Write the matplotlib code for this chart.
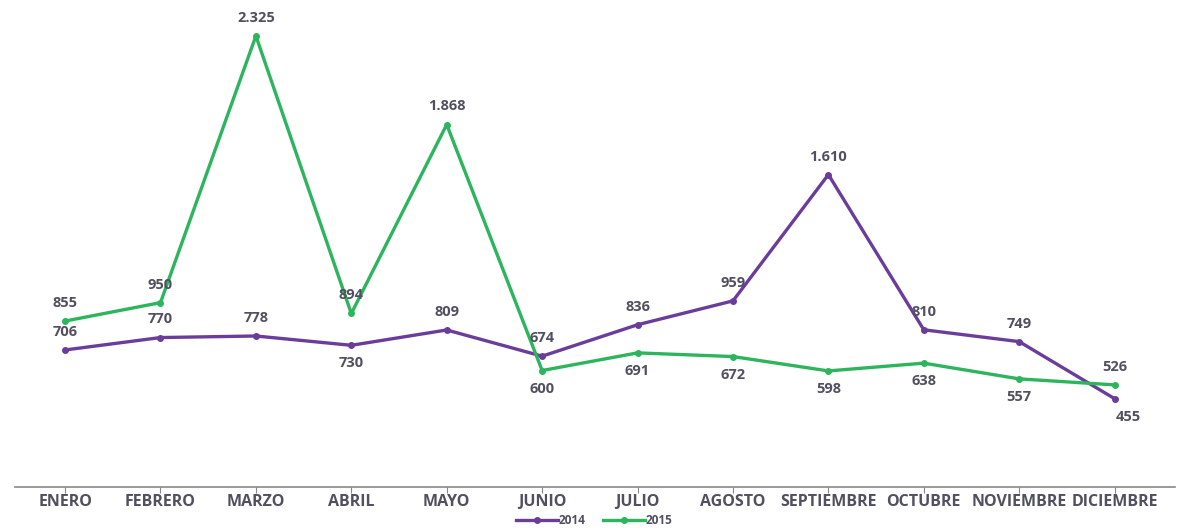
import matplotlib.pyplot as plt

meses = ['ENERO', 'FEBRERO', 'MARZO', 'ABRIL', 'MAYO', 'JUNIO', 'JULIO', 'AGOSTO',
         'SEPTIEMBRE', 'OCTUBRE', 'NOVIEMBRE', 'DICIEMBRE']
v2014 = [706, 770, 778, 730, 809, 674, 836, 959, 1610, 810, 749, 455]
v2015 = [855, 950, 2325, 894, 1868, 600, 691, 672, 598, 638, 557, 526]
# posicion de las etiquetas: 1 arriba, -1 abajo
pos2014 = [1, 1, 1, -1, 1, 1, 1, 1, 1, 1, 1, -1]
pos2015 = [1, 1, 1, 1, 1, -1, -1, -1, -1, -1, -1, 1]

morado = '#6a3d9a'
verde = '#2db55d'
gris = '#505060'

plt.rcParams['font.family'] = ['Open Sans', 'DejaVu Sans']
fig = plt.figure(figsize=(11.89, 5.31), dpi=100)
ax = fig.add_axes([0.013, 0.083, 0.975, 0.917])

x = list(range(len(meses)))
ax.plot(x, v2014, color=morado, lw=2.4, marker='o', ms=4, label='2014')
ax.plot(x, v2015, color=verde, lw=2.4, marker='o', ms=4, label='2015')

def fmt(v):
    return f'{v:,}'.replace(',', '.')

for i in x:
    for v, p in ((v2014[i], pos2014[i]), (v2015[i], pos2015[i])):
        dx = 0
        if v == 455:
            dx = 10
        ax.annotate(fmt(v), (i, v), xytext=(dx, 13 * p), textcoords='offset points',
                    ha='center', va='center', fontsize=10.5, fontweight='bold', color=gris)

ax.set_xlim(-0.52, 11.63)
ax.set_ylim(0, 2510)
ax.set_xticks(x)
ax.set_xticklabels(meses, fontsize=11.5, fontweight='bold', color=gris)
ax.tick_params(axis='x', length=4, color='#888888', pad=1)
ax.set_yticks([])
for s in ['top', 'right', 'left']:
    ax.spines[s].set_visible(False)
ax.spines['bottom'].set_color('#888888')
ax.spines['bottom'].set_linewidth(1.2)

leg = fig.legend(loc='center', bbox_to_anchor=(0.5, 10 / 531), ncol=2, frameon=False,
                 fontsize=8.5, handlelength=3.5, columnspacing=1.5, handletextpad=0.1)
for t in leg.get_texts():
    t.set_color(gris)
    t.set_fontweight('bold')

fig.savefig('out.png', dpi=100)
